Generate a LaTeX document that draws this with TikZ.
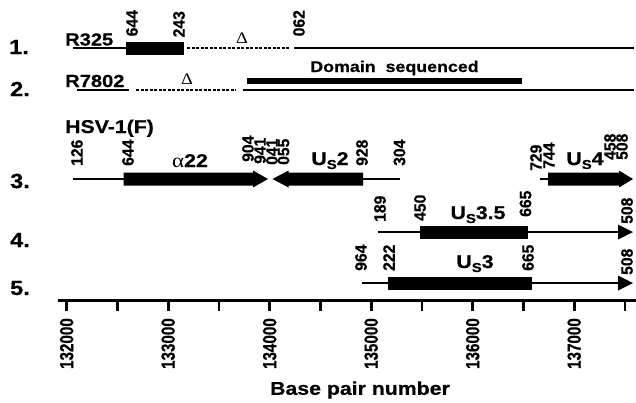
\documentclass[tikz,border=0pt]{standalone}
\usepackage{fontspec}
\setmainfont{Liberation Sans}
\newfontfamily\hfont[FakeStretch=1.15,FakeBold=0.6]{Liberation Sans}
\newfontfamily\vfont[FakeStretch=0.8,FakeBold=0.6]{Liberation Sans}
\newfontfamily\nfont[FakeStretch=0.95,FakeBold=0.6]{Liberation Sans}
\newfontfamily\serifgr[FakeStretch=1.15]{Liberation Serif}
\newcommand{\subS}{\raisebox{-4pt}{\fontsize{13}{13}\selectfont S}}
\begin{document}
\begin{tikzpicture}[x=1pt,y=-1pt,
  thinline/.style={line width=1.8pt},
  dotline/.style={line width=1.8pt, dash pattern=on 3pt off 1.5pt},
  num/.style={font=\nfont\bfseries\fontsize{16.5}{16.5}\selectfont, rotate=90, anchor=west, inner sep=0pt},
  tnum/.style={font=\vfont\bfseries\fontsize{19}{19}\selectfont, rotate=90, anchor=east, inner sep=0pt},
  rowlbl/.style={font=\hfont\bfseries\fontsize{20.5}{20.5}\selectfont, inner sep=0pt},
  strain/.style={font=\hfont\bfseries\fontsize{17.5}{17.5}\selectfont, inner sep=0pt, anchor=base west},
  gene/.style={font=\hfont\bfseries\fontsize{18.5}{18.5}\selectfont, inner sep=0pt, anchor=base},
  delta/.style={font=\serifgr\fontsize{16}{16}\selectfont, inner sep=0pt},
]
\useasboundingbox (0,0) rectangle (636,402);
% ---------- row 1
\node[rowlbl] (r1) at (19,47) {1.};
\node[strain] (R325) at (65,45.5) {R325};
\draw[thinline] (72.5,48) -- (126,48);
\fill (126,42) rectangle (184,55);
\draw[dotline] (187,48) -- (289,48);
\draw[thinline] (294,48) -- (634,48);
\node[num] (a644) at (132,36.5) {644};
\node[num] (a243) at (179,37.5) {243};
\node[num] (a062) at (299,36.5) {062};
\node[delta] (d1) at (242,38.5) {Δ};
% ---------- row 2
\node[rowlbl] (r2) at (20,89) {2.};
\node[strain] (R7802) at (65,87) {R7802};
\draw[thinline] (77,90) -- (129,90);
\draw[dotline] (136,90) -- (236,90);
\draw[thinline] (242.5,90) -- (634,90);
\fill (246.5,77.7) rectangle (522,83.5);
\node[font=\hfont\bfseries\fontsize{15.5}{15.5}\selectfont, inner sep=0pt, anchor=base] (dom) at (394.5,72) {Domain\ \ sequenced};
\node[delta] (d2) at (187,79) {Δ};
% ---------- HSV
\node[strain, font=\hfont\bfseries\fontsize{18.5}{18.5}\selectfont] (hsv) at (65,133) {HSV-1(F)};
% ---------- row 3
\node[rowlbl] (r3) at (20,181) {3.};
\draw[thinline] (72.5,179) -- (124,179);
\fill (123.5,172.5) -- (253,172.5) -- (253,170.5) -- (268,179) -- (253,187.5) -- (253,185.5) -- (123.5,185.5) -- cycle;
\fill (272.5,179) -- (288.5,170.5) -- (288.5,172.5) -- (363,172.5) -- (363,185.5) -- (288.5,185.5) -- (288.5,187.5) -- cycle;
\draw[thinline] (363,179) -- (399.5,179);
\draw[thinline] (539.5,179) -- (548,179);
\fill (548,172.5) -- (619,172.5) -- (619,170.5) -- (633,179) -- (619,187.5) -- (619,185.5) -- (548,185.5) -- cycle;
\node[num] (b126) at (77,166) {126};
\node[num] (b644) at (128,166) {644};
\node[num] (b904) at (248,162) {904};
\node[num] (b941) at (260,164) {941};
\node[num] (b041) at (272,165) {041};
\node[num] (b055) at (283.5,165) {055};
\node[num] (b928) at (362,166) {928};
\node[num] (b304) at (399.5,166) {304};
\node[num] (b729) at (536,171) {729};
\node[num] (b744) at (549,169) {744};
\node[num] (b458) at (610,160) {458};
\node[num] (b508) at (622,160) {508};
\node[gene] (ga22) at (190,167) {{\serifgr\mdseries\fontsize{20}{20}\selectfont α}22};
\node[gene] (gus2) at (330,165) {U\subS2};
\node[gene] (gus4) at (585,165) {U\subS4};
% ---------- row 4
\node[rowlbl] (r4) at (20,240) {4.};
\draw[thinline] (377.5,232) -- (621,232);
\fill (618,224.5) -- (633,232) -- (618,239.5) -- cycle;
\fill (420,225.5) rectangle (528,238.5);
\node[num] (c189) at (380,222) {189};
\node[num] (c450) at (420,221) {450};
\node[num] (c665) at (525.5,217) {665};
\node[num] (c508) at (627,224) {508};
\node[gene] (gus35) at (478,219) {U\subS3.5};
% ---------- row 5
\node[rowlbl] (r5) at (20,288) {5.};
\draw[thinline] (361.5,283) -- (621,283);
\fill (618,275.5) -- (633,283) -- (618,290.5) -- cycle;
\fill (387.5,276.5) rectangle (531.5,289.5);
\node[num] (e964) at (361,271) {964};
\node[num] (e222) at (389,271) {222};
\node[num] (e665) at (528,271) {665};
\node[num] (e508) at (627,275) {508};
\node[gene] (gus3) at (475,268) {U\subS3};
% ---------- axis
\draw[line width=3.2pt] (58,300.7) -- (636,300.7);
\foreach \k in {0,...,11}{
  \draw[line width=2.6pt] ({66.7+\k*50.75},300.7) -- ({66.7+\k*50.75},311);
}
\foreach \k/\v in {0/132000,2/133000,4/134000,6/135000,8/136000,10/137000}{
  \node[tnum] (t\v) at ({66.7+\k*50.75},318) {\v};
}
\node[font=\hfont\bfseries\fontsize{18.5}{18.5}\selectfont, inner sep=0pt] (bpn) at (360,390) {Base pair number};
\end{tikzpicture}
\end{document}
